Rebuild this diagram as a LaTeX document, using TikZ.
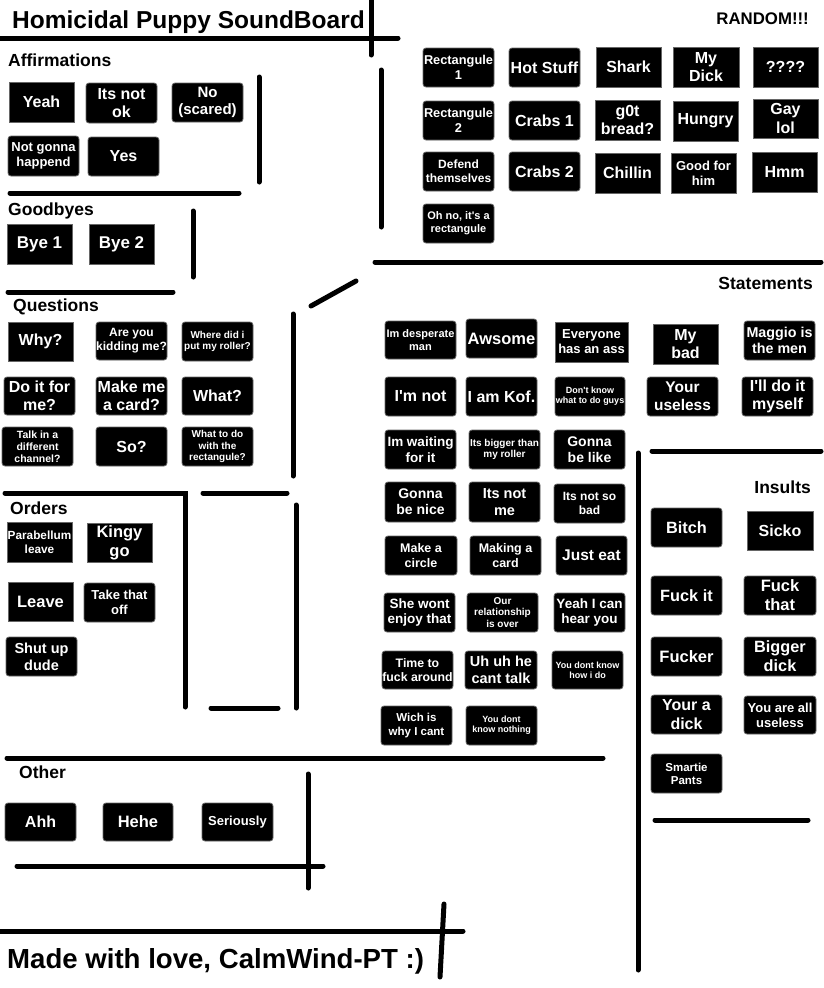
\documentclass[tikz,border=0pt]{standalone}
\usepackage{fontspec}
\setmainfont{Liberation Sans}
\newcommand\fz[1]{\fontsize{#1}{\fpeval{round(#1*1.15,2)}}\selectfont}
\newcommand\q{\textquotesingle}
\tikzset{
  btn/.style={fill=black, draw=black!60, line width=0.8pt, rounded corners=3pt, text=white, inner sep=0pt, align=center},
  btnsq/.style={btn, rounded corners=0pt},
  ln/.style={line width=5pt, line cap=round, black},
  head/.style={inner sep=0pt, font=\bfseries\fz{17.5}},
}
% #1 style, #2 name, #3 x1, #4 y1, #5 x2, #6 y2, #7 font size, #8 text
\newcommand\bt[8][btn]{\node[#1, minimum width={#5-#3}, minimum height={#6-#4}, font=\bfseries\fz{#7}] (#2) at ({(#3+#5)/2},{(#4+#6)/2}) {#8};}
\begin{document}
\begin{tikzpicture}[x=1pt,y=-1pt]
\fill[white] (0,0) rectangle (823,988);
\useasboundingbox (0,0) rectangle (823,988);

% ---- separator lines ----
\draw[ln] (0,38) -- (398,38);
\draw[ln] (371,0) -- (371,55);
\draw[ln] (381,70) -- (381,227);
\draw[ln] (259,77) -- (259,182);
\draw[ln] (10,193) -- (239,193);
\draw[ln] (193,211) -- (193,277);
\draw[ln] (8,292) -- (173,292);
\draw[ln] (375,262) -- (821,262);
\draw[ln] (311,306) -- (356,281);
\draw[ln] (293,314) -- (293,476);
\draw[ln] (203,493) -- (287,493);
\draw[ln] (5,493) -- (185,493) -- (185,707);
\draw[ln] (296,505) -- (296,708);
\draw[ln] (211,708) -- (278,708);
\draw[ln] (7,758) -- (603,758);
\draw[ln] (638,453) -- (638,970);
\draw[ln] (652,451) -- (821,451);
\draw[ln] (655,820) -- (808,820);
\draw[ln] (308,774) -- (308,888);
\draw[ln] (17,866) -- (323,866);
\draw[ln] (0,931) -- (463,931);
\draw[ln] (444,904) -- (440,977);

% ---- titles and headings ----
\node[inner sep=0pt, anchor=base west, font=\bfseries\fz{24.5}] (title) at (12,28) {Homicidal Puppy SoundBoard};
\node[inner sep=0pt, anchor=base west, font=\bfseries\fz{27.6}] (footer) at (7,968) {Made with love, CalmWind-PT :)};
\node[head, anchor=base west] (hAff) at (8,66) {Affirmations};
\node[head, anchor=base west] (hGood) at (8,215) {Goodbyes};
\node[head, anchor=base west] (hQue) at (13,311) {Questions};
\node[head, anchor=base west] (hOrd) at (10,514) {Orders};
\node[head, anchor=base west] (hOth) at (19,778) {Other};
\node[head, anchor=base east] (hSta) at (813,289) {Statements};
\node[head, anchor=base east] (hIns) at (811,493) {Insults};
\node[head, anchor=base east, font=\bfseries\fz{16.8}] (hRan) at (809,24) {RANDOM!!!};

% ---- Affirmations ----
\bt[btnsq]{yeah}{9}{82}{74}{122}{16}{Yeah}
\bt{itsnotok}{86}{83}{157}{123}{16}{Its not\\ok}
\bt{noscared}{172}{83}{243}{122}{15}{No\\(scared)}
\bt{notgonna}{8}{136}{79}{176}{13}{Not gonna\\happend}
\bt{yes}{88}{137}{159}{176}{16}{Yes}

% ---- Goodbyes ----
\bt[btnsq]{bye1}{7}{224}{72}{264}{17}{Bye 1}
\bt[btnsq]{bye2}{89}{224}{154}{264}{17}{Bye 2}

% ---- Questions ----
\bt[btnsq]{why}{8}{322}{73}{361}{16}{Why?}
\bt{areyou}{96}{322}{167}{360}{12}{Are you\\kidding me?}
\bt{wheredid}{182}{322}{253}{361}{10}{Where did i\\put my roller?}
\bt{doit}{4}{377}{75}{415}{16}{Do it for\\me?}
\bt{makeme}{96}{377}{167}{415}{16}{Make me\\a card?}
\bt{what}{182}{377}{253}{415}{16}{What?}
\bt{talk}{2}{427}{73}{466}{10.5}{Talk in a\\different\\channel?}
\bt{so}{96}{427}{167}{466}{16}{So?}
\bt{whattodo}{182}{427}{253}{466}{10}{What to do\\with the\\rectangule?}

% ---- Orders ----
\bt[btnsq]{parabellum}{7}{522}{72}{562}{11.8}{Parabellum\\leave}
\bt[btnsq]{kingy}{87}{523}{152}{562}{16.5}{Kingy\\go}
\bt[btnsq]{leave}{8}{582}{73}{621}{16.5}{Leave}
\bt{takethat}{84}{583}{155}{622}{13}{Take that\\off}
\bt{shutup}{6}{637}{77}{676}{14.5}{Shut up\\dude}

% ---- Random ----
\bt{rect1}{423}{48}{494}{87}{12.8}{Rectangule\\1}
\bt{hotstuff}{509}{48}{580}{87}{16}{Hot Stuff}
\bt[btnsq]{shark}{596}{47}{661}{87}{16}{Shark}
\bt[btnsq]{mydick}{673}{47}{739}{87}{16}{My\\Dick}
\bt[btnsq]{qqqq}{753}{47}{818}{87}{16}{????}
\bt{rect2}{423}{101}{494}{140}{12.8}{Rectangule\\2}
\bt{crabs1}{509}{101}{580}{140}{16}{Crabs 1}
\bt[btnsq]{gotbread}{595}{100}{660}{140}{16}{g0t\\bread?}
\bt[btnsq]{hungry}{673}{101}{738}{141}{16}{Hungry}
\bt[btnsq]{gaylol}{753}{99}{818}{138}{16}{Gay\\lol}
\bt{defend}{423}{152}{494}{191}{12}{Defend\\themselves}
\bt{crabs2}{509}{152}{580}{191}{16}{Crabs 2}
\bt[btnsq]{chillin}{595}{153}{660}{193}{16}{Chillin}
\bt[btnsq]{goodfor}{671}{153}{736}{193}{13}{Good for\\him}
\bt[btnsq]{hmm}{752}{152}{817}{192}{16}{Hmm}
\bt{ohno}{423}{204}{494}{243}{11}{Oh no, it\q s a\\rectangule}

% ---- Statements ----
\bt{desperate}{385}{321}{456}{359}{11}{Im desperate\\man}
\bt{awsome}{466}{319}{537}{358}{16.5}{Awsome}
\bt[btnsq]{everyone}{555}{322}{628}{362}{13}{Everyone\\has an ass}
\bt[btnsq]{mybad}{653}{324}{718}{364}{16}{My\\bad}
\bt{maggio}{744}{321}{815}{360}{14.3}{Maggio is\\the men}
\bt{imnot}{385}{377}{456}{416}{16}{I\q m not}
\bt{iamkof}{466}{377}{537}{416}{16}{I am Kof.}
\bt{dontknow}{555}{377}{625}{416}{9}{Don\q t know\\what to do guys}
\bt{yourusel}{647}{377}{718}{416}{15.5}{Your\\useless}
\bt{illdo}{742}{377}{813}{416}{16}{I\q ll do it\\myself}
\bt{waiting}{385}{430}{456}{469}{13.5}{Im waiting\\for it}
\bt{bigger}{469}{430}{540}{469}{10}{Its bigger than\\my roller}
\bt{gonnalike}{554}{430}{625}{469}{14}{Gonna\\be like}
\bt{gonnanice}{385}{482}{456}{522}{14}{Gonna\\be nice}
\bt{itsnotme}{469}{482}{540}{522}{14.5}{Its not\\me}
\bt{notsobad}{554}{484}{625}{523}{12}{Its not so\\bad}
\bt{circle}{385}{536}{457}{575}{12.5}{Make a\\circle}
\bt{makingcard}{470}{536}{541}{575}{12.5}{Making a\\card}
\bt{justeat}{556}{536}{627}{575}{15.5}{Just eat}
\bt{shewont}{384}{593}{455}{632}{13.5}{She wont\\enjoy that}
\bt{relationship}{467}{593}{538}{632}{10}{Our\\relationship\\is over}
\bt{yeahican}{554}{593}{625}{632}{13.5}{Yeah I can\\hear you}
\bt{timeto}{382}{651}{453}{689}{12.3}{Time to\\fuck around}
\bt{uhuh}{465}{651}{537}{689}{14.5}{Uh uh he\\cant talk}
\bt{howido}{552}{651}{623}{689}{9}{You dont know\\how i do}
\bt{wich}{381}{706}{452}{745}{11.5}{Wich is\\why I cant}
\bt{nothing}{466}{706}{537}{745}{9}{You dont\\know nothing}

% ---- Insults ----
\bt{bitch}{651}{508}{722}{547}{16.3}{Bitch}
\bt[btnsq]{sicko}{747}{511}{813}{550}{16}{Sicko}
\bt{fuckit}{651}{576}{722}{615}{16.3}{Fuck it}
\bt{fuckthat}{744}{576}{816}{615}{16.5}{Fuck\\that}
\bt{fucker}{651}{637}{722}{676}{16.5}{Fucker}
\bt{biggerdick}{744}{637}{816}{676}{16.3}{Bigger\\dick}
\bt{yourdick}{651}{695}{722}{734}{16}{Your a\\dick}
\bt{allusel}{744}{696}{816}{734}{13}{You are all\\useless}
\bt{smartie}{651}{754}{722}{793}{11.5}{Smartie\\Pants}

% ---- Other ----
\bt{ahh}{5}{803}{76}{841}{16}{Ahh}
\bt{hehe}{103}{803}{173}{841}{16.5}{Hehe}
\bt{seriously}{202}{803}{273}{841}{13}{Seriously}
\end{tikzpicture}
\end{document}
